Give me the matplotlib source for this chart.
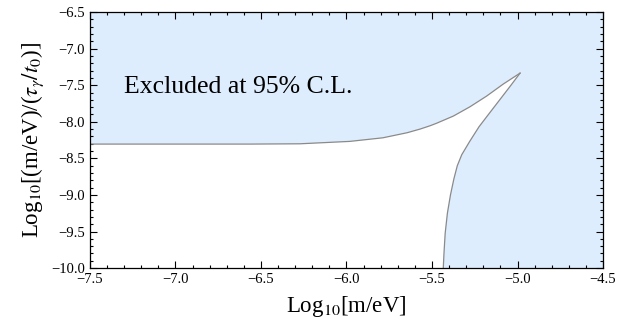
import numpy as np
import matplotlib
matplotlib.use("Agg")
import matplotlib.pyplot as plt
from matplotlib.ticker import MultipleLocator

plt.rcParams['font.family'] = ['Liberation Serif', 'DejaVu Serif']
plt.rcParams['mathtext.fontset'] = 'stix'

# boundary of the excluded region
# upper branch: left edge -> cusp
upper_x = [-7.5, -7.0, -6.564, -6.272, -5.98, -5.787, -5.646, -5.57, -5.512,
           -5.473, -5.375, -5.278, -5.18, -5.083, -4.985]
upper_y = [-8.305, -8.305, -8.305, -8.301, -8.268, -8.219, -8.15, -8.10, -8.055,
           -8.02, -7.922, -7.795, -7.648, -7.484, -7.335]
# lower branch: cusp -> bottom edge
lower_x = [-4.985, -5.045, -5.105, -5.165, -5.225, -5.28, -5.326, -5.352,
           -5.372, -5.392, -5.41, -5.423, -5.43, -5.434]
lower_y = [-7.335, -7.521, -7.703, -7.885, -8.068, -8.27, -8.45, -8.60,
           -8.78, -9.0, -9.25, -9.526, -9.799, -10.0]

XMIN, XMAX = -7.5, -4.5
YMIN, YMAX = -10.0, -6.5

fig = plt.figure(figsize=(6.4, 3.31), dpi=100)
ax = fig.add_axes([0.1406, 0.19, 0.8016, 0.7737])

# excluded region = everything outside the curve
ax.fill_between([XMIN, XMAX], YMIN, YMAX, color='#deedfd', lw=0, zorder=0)
poly_x = upper_x + lower_x[1:] + [XMIN]
poly_y = upper_y + lower_y[1:] + [YMIN]
ax.fill(poly_x, poly_y, color='white', lw=0, zorder=1)
ax.plot(upper_x, upper_y, color='#8a8a8a', lw=0.9, zorder=2)
ax.plot(lower_x, lower_y, color='#8a8a8a', lw=0.9, zorder=2)

ax.text(-7.3, -7.53, 'Excluded at 95% C.L.', fontsize=18.5, va='center', ha='left')

ax.set_xlim(XMIN, XMAX)
ax.set_ylim(YMIN, YMAX)
ax.xaxis.set_major_locator(MultipleLocator(0.5))
ax.xaxis.set_minor_locator(MultipleLocator(0.1))
ax.yaxis.set_major_locator(MultipleLocator(0.5))
ax.yaxis.set_minor_locator(MultipleLocator(0.1))
ax.xaxis.set_major_formatter(plt.FuncFormatter(lambda v, p: f'{v:.1f}'.replace('-', '\u2212')))
ax.yaxis.set_major_formatter(plt.FuncFormatter(lambda v, p: f'{v:.1f}'.replace('-', '\u2212')))
ax.tick_params(which='both', direction='in', top=True, right=True, labelsize=10.5, width=0.8)
ax.tick_params(which='major', length=5)
ax.tick_params(which='minor', length=2.5)
for s in ax.spines.values():
    s.set_linewidth(0.9)

ax.set_xlabel(r'Log$_{10}$[m/eV]', fontsize=16.5, labelpad=6)
ax.set_ylabel(r'Log$_{10}$[(m/eV)/($\tau_\gamma/t_0$)]', fontsize=16.5, labelpad=4)

fig.savefig('out.png', dpi=100)
